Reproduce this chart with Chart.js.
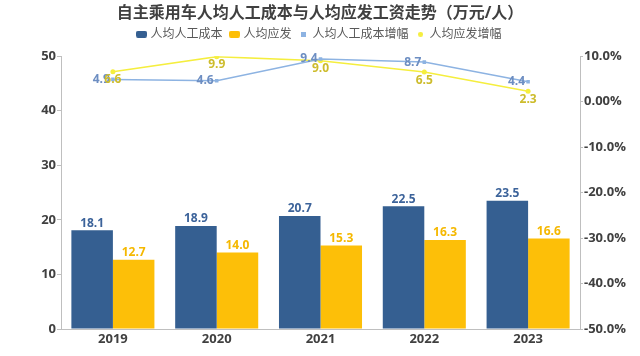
<!DOCTYPE html>
<html><head><meta charset="utf-8">
<script src="https://cdn.jsdelivr.net/npm/chart.js@4"></script>
<style>html,body{margin:0;padding:0;background:#fff}#wrap{width:640px;height:356px}</style>
</head><body><div id="wrap"><canvas id="c" width="640" height="356"></canvas></div>
<script>
const years = ['2019','2020','2021','2022','2023'];
const laborCost = [18.1, 18.9, 20.7, 22.5, 23.5];
const wagePaid = [12.7, 14.0, 15.3, 16.3, 16.6];
const laborCostGrowth = [4.9, 4.6, 9.4, 8.7, 4.4];
const wageGrowth = [6.6, 9.9, 9.0, 6.5, 2.3];
const leftTicks = [0, 10, 20, 30, 40, 50];
const rightTicks = [-50, -40, -30, -20, -10, 0, 10];

const FONT = '"Open Sans", "Noto Sans CJK SC", sans-serif';
const C_BLUE = '#355f91', C_YEL = '#fdbf08', C_LBLUE = '#8db3e2', C_LYEL = '#f5ee3e';

function marker(w, h, color, kind) {
  const cv = document.createElement('canvas'); cv.width = w; cv.height = h;
  const g = cv.getContext('2d'); g.fillStyle = color;
  if (kind === 'circle') { g.beginPath(); g.arc(w/2, h/2, w/2, 0, Math.PI*2); g.fill(); }
  else if (kind === 'round') { g.beginPath(); g.roundRect(0, 0, w, h, 2); g.fill(); }
  else g.fillRect(0, 0, w, h);
  return cv;
}
const markers = [marker(11, 7, C_BLUE, 'round'), marker(11, 7, C_YEL, 'round'), marker(5, 5, C_LBLUE, 'rect'), marker(5, 5, C_LYEL, 'circle')];

const legendShift = {
  id: 'legendShift',
  afterInit(chart) {
    const lg = chart.legend;
    if (lg && !lg._patched) {
      const f = lg.fit;
      lg.fit = function() { f.call(this); this.height += 6; };
      lg._patched = true;
    }
  }
};

const labelPlugin = {
  id: 'vlabels',
  afterDatasetsDraw(chart) {
    const ctx = chart.ctx;
    ctx.save();
    ctx.font = 'bold 12px ' + FONT;
    chart.data.datasets.forEach((ds, i) => {
      const meta = chart.getDatasetMeta(i);
      meta.data.forEach((el, j) => {
        const v = ds.data[j];
        const txt = v.toFixed(1);
        if (i === 0 || i === 1) {
          ctx.fillStyle = i === 0 ? '#3c639a' : '#f5b800';
          ctx.textAlign = 'center'; ctx.textBaseline = 'bottom';
          ctx.fillText(txt, el.x, el.y - 1);
        } else if (i === 2) {
          ctx.fillStyle = '#6d8ec2';
          ctx.textAlign = 'right'; ctx.textBaseline = 'middle';
          ctx.fillText(txt, el.x - 3, el.y);
        } else {
          ctx.fillStyle = '#cdbc2c';
          ctx.textAlign = 'center'; ctx.textBaseline = 'top';
          ctx.fillText(txt, el.x, el.y + 2);
        }
      });
    });
    ctx.restore();
  }
};

new Chart(document.getElementById('c'), {
  type: 'bar',
  data: {
    labels: years,
    datasets: [
      { label: '人均人工成本', data: laborCost, backgroundColor: C_BLUE, yAxisID: 'y', categoryPercentage: 0.8, barPercentage: 1.0 },
      { label: '人均应发', data: wagePaid, backgroundColor: C_YEL, yAxisID: 'y', categoryPercentage: 0.8, barPercentage: 1.0 },
      { type: 'line', label: '人均人工成本增幅', data: laborCostGrowth, yAxisID: 'y1', borderColor: C_LBLUE, backgroundColor: C_LBLUE, borderWidth: 1.5, pointStyle: 'rect', pointRadius: 2.5, pointBorderWidth: 0, tension: 0 },
      { type: 'line', label: '人均应发增幅', data: wageGrowth, yAxisID: 'y1', borderColor: C_LYEL, backgroundColor: C_LYEL, borderWidth: 1.5, pointStyle: 'circle', pointRadius: 2.5, pointBorderWidth: 0, tension: 0 }
    ]
  },
  options: {
    responsive: false, animation: false, devicePixelRatio: 1,
    layout: { padding: { top: 0, left: 0, right: 0, bottom: 0 } },
    plugins: {
      tooltip: { enabled: false },
      title: { display: true, text: '自主乘用车人均人工成本与人均应发工资走势（万元/人）', color: '#404040',
        font: { family: FONT, size: 16, weight: 'bold' }, padding: { top: 4, bottom: -4 } },
      legend: {
        display: true,
        labels: {
          color: '#595959', font: { family: FONT, size: 12 }, usePointStyle: true, boxWidth: 6, boxHeight: 7, padding: 9,
          generateLabels(chart) {
            return chart.data.datasets.map((ds, i) => ({ text: ds.label, pointStyle: markers[i], fillStyle: ds.backgroundColor, strokeStyle: ds.backgroundColor, lineWidth: 0, hidden: false, datasetIndex: i, fontColor: '#595959' }));
          }
        }
      }
    },
    scales: {
      x: {
        grid: { display: false, drawTicks: false },
        border: { display: true, color: '#bfbfbf' },
        ticks: { color: '#404040', font: { family: FONT, size: 13, weight: 'bold' }, padding: 2 },
        afterFit(s) { s.height = 27; }
      },
      y: {
        position: 'left', min: 0, max: 50,
        afterBuildTicks(s) { s.ticks = leftTicks.map(v => ({ value: v })); },
        grid: { drawOnChartArea: false, drawTicks: true, tickLength: 4, color: '#bfbfbf' },
        border: { display: true, color: '#bfbfbf' },
        ticks: { color: '#404040', font: { family: FONT, size: 13, weight: 'bold' }, padding: 1 },
        afterFit(s) { s.width = 61; }
      },
      y1: {
        position: 'right', min: -50, max: 10,
        afterBuildTicks(s) { s.ticks = rightTicks.map(v => ({ value: v })); },
        grid: { drawOnChartArea: false, drawTicks: true, tickLength: 3, color: '#bfbfbf' },
        border: { display: true, color: '#bfbfbf' },
        ticks: { color: '#404040', font: { family: FONT, size: 13, weight: 'bold' }, padding: 1,
          callback: v => v === 0 ? '0.00%' : v.toFixed(1) + '%' },
        afterFit(s) { s.width = 60; }
      }
    }
  },
  plugins: [legendShift, labelPlugin]
});
</script></body></html>
